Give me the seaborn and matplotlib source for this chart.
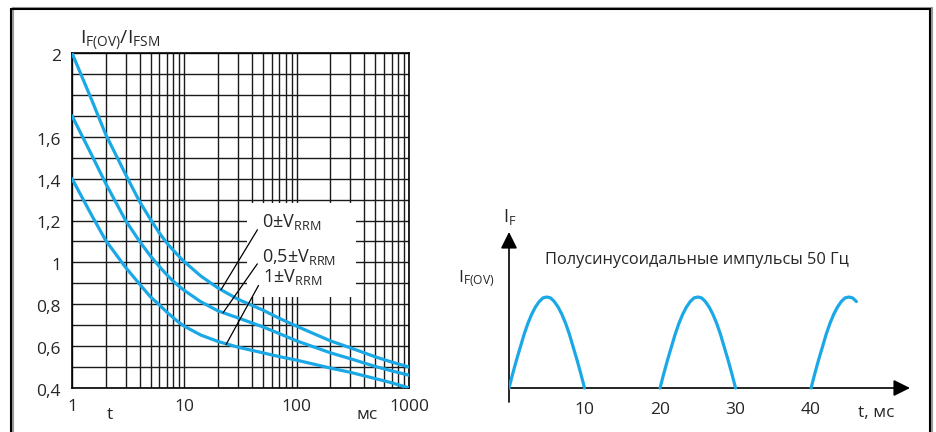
import numpy as np
import pandas as pd
import matplotlib
matplotlib.use('Agg')
import matplotlib.pyplot as plt
import seaborn as sns
from matplotlib.patches import Rectangle
from matplotlib.ticker import FixedLocator, LogLocator, NullFormatter

# Left chart: I_F(OV)/I_FSM vs t (ms), three reverse-voltage cases
t_ms = [1, 1.5, 2, 3, 4, 5, 6, 7, 8, 9, 10, 14, 20, 30, 50, 70, 100, 200, 300, 500, 700, 1000]
ratio_0 = [2.00, 1.775, 1.61, 1.42, 1.29, 1.205, 1.14, 1.092, 1.057, 1.028, 1.003, 0.935, 0.877,
           0.824, 0.772, 0.733, 0.695, 0.625, 0.592, 0.549, 0.524, 0.50]
ratio_05 = [1.70, 1.512, 1.376, 1.20, 1.10, 1.03, 0.98, 0.94, 0.909, 0.885, 0.866, 0.812, 0.768,
            0.735, 0.692, 0.66, 0.625, 0.568, 0.54, 0.503, 0.482, 0.461]
ratio_1 = [1.40, 1.224, 1.104, 0.976, 0.896, 0.835, 0.797, 0.762, 0.735, 0.712, 0.695, 0.653, 0.622,
           0.595, 0.568, 0.55, 0.533, 0.495, 0.475, 0.445, 0.425, 0.40]

curve_labels = ['0±$\\mathregular{V_{RRM}}$', '0,5±$\\mathregular{V_{RRM}}$', '1±$\\mathregular{V_{RRM}}$']
label_t = [49.3, 49.3, 50.3]
label_v = [1.193, 1.026, 0.930]
leader_t = [21.2, 22.1, 23.5]
leader_v = [0.869, 0.759, 0.607]

x_ticks = [1, 10, 100, 1000]
x_ticklabels = ['1', '10', '100', '1000']
y_ticks = [0.4, 0.6, 0.8, 1.0, 1.2, 1.4, 1.6, 2.0]
y_ticklabels = ['0,4', '0,6', '0,8', '1', '1,2', '1,4', '1,6', '2']

# Right chart: half-sine pulses 50 Hz
pulse_ms = [0, 0.5, 1, 1.5, 2, 2.5, 3, 3.5, 4, 4.5, 5, 5.5, 6, 6.5, 7, 7.5, 8, 8.5, 9, 9.5, 10]
pulse_level = [0, 0.16, 0.31, 0.45, 0.59, 0.71, 0.81, 0.89, 0.95, 0.99, 1.0, 0.99, 0.95,
               0.89, 0.81, 0.71, 0.59, 0.45, 0.31, 0.16, 0]
pulse_start = [0, 20, 40]
pulse_points = [21, 21, 13]
pulse_ticks = [10, 20, 30, 40]

BLUE = '#1aa9e6'
W, H = 936, 432

sns.set_style('white')
plt.rcParams['font.family'] = ['Open Sans', 'DejaVu Sans']
plt.rcParams['mathtext.fontset'] = 'custom'
plt.rcParams['mathtext.rm'] = 'Open Sans'
plt.rcParams['font.size'] = 12.5


def fx(px):
    return px / W


def fy(py):
    return 1 - py / H


fig = plt.figure(figsize=(W / 100, H / 100), dpi=100)

# outer frame (with a grey shadow)
fig.add_artist(Rectangle((fx(12.5), -0.05), fx(930) - fx(11), fy(7.5) + 0.05,
                         transform=fig.transFigure, fill=False, ec='#9a9a9a', lw=1.5))
fig.add_artist(Rectangle((fx(11), -0.05), fx(930) - fx(11), fy(9) + 0.05,
                         transform=fig.transFigure, fill=False, ec='black', lw=1.5))

# ---- left chart ----
ax = fig.add_axes([fx(72), fy(388), (409 - 72) / W, (388 - 53) / H])
ax.set_xscale('log')
for vals in [ratio_0, ratio_05, ratio_1]:
    df = pd.DataFrame({'t': t_ms, 'r': vals})
    sns.lineplot(data=df, x='t', y='r', ax=ax, color=BLUE, lw=2.3, zorder=4)

ax.set_xlim(1, 1000)
ax.set_ylim(0.4, 2.0)
ax.xaxis.set_major_locator(FixedLocator(x_ticks))
ax.xaxis.set_minor_locator(LogLocator(base=10, subs=range(2, 10)))
ax.xaxis.set_minor_formatter(NullFormatter())
ax.set_xticklabels(x_ticklabels)
ax.set_yticks(np.round(np.arange(0.4, 2.01, 0.1), 1))
ax.set_yticklabels([])
ax.set_axisbelow(True)
ax.grid(True, which='both', color='#1a1a1a', lw=1.0)
ax.tick_params(which='both', length=0)
ax.tick_params(axis='x', pad=8)
ax.set_xlabel('')
ax.set_ylabel('')
for s in ax.spines.values():
    s.set_color('black')
    s.set_linewidth(1.2)

for v, lab in zip(y_ticks, y_ticklabels):
    ax.annotate(lab, xy=(0, v), xycoords=('axes fraction', 'data'), xytext=(-11, -4),
                textcoords='offset pixels', ha='right', va='center')

# white box behind the curve labels
ax.add_patch(Rectangle((36.2, 0.835), 338 - 36.2, 1.284 - 0.835, fc='white', ec='none', zorder=2))
for lab, lt, lv, kt, kv in zip(curve_labels, label_t, label_v, leader_t, leader_v):
    ax.annotate(lab, xy=(kt, kv), xytext=(lt, lv), ha='left', va='center', zorder=6,
                fontsize=13,
                arrowprops=dict(arrowstyle='-', color='black', lw=0.9,
                                relpos=(0, 0.5), shrinkA=2, shrinkB=0))

fig.text(fx(80), fy(40), r'$\mathregular{I_{F(OV)}/I_{FSM}}$', ha='left', va='center', fontsize=14)
fig.text(fx(110), fy(415), 't', ha='center', va='center')
fig.text(fx(367), fy(415), 'мс', ha='center', va='center')

# ---- right chart ----
ax2 = fig.add_axes([fx(509), fy(402), (910 - 509) / W, (402 - 232) / H])
for start, n in zip(pulse_start, pulse_points):
    df = pd.DataFrame({'t': [start + p for p in pulse_ms[:n]], 'i': pulse_level[:n]})
    sns.lineplot(data=df, x='t', y='i', ax=ax2, color=BLUE, lw=2.3, sort=False,
                 solid_capstyle='round', zorder=4)

ax2.set_xlim(0, 53.1)
ax2.set_ylim(-14 / 91, 156 / 91)
for s in ax2.spines.values():
    s.set_visible(False)
ax2.spines['bottom'].set_position(('data', 0))
ax2.set_xticks(pulse_ticks)
ax2.set_yticks([])
ax2.tick_params(axis='x', length=4.3, width=1.2, direction='out', pad=6, color='black')
ax2.set_xlabel('')
ax2.set_ylabel('')
ax2.set_facecolor('none')

arrow = dict(arrowstyle='-|>,head_length=0.8,head_width=0.4', color='black', lw=1.2,
             shrinkA=0, shrinkB=0)
ax2.annotate('', xy=(53.1, 0), xytext=(0, 0), arrowprops=arrow, annotation_clip=False)
ax2.annotate('', xy=(0, 156 / 91), xytext=(0, -14 / 91), arrowprops=arrow, annotation_clip=False)

fig.text(fx(876), fy(413), 't, мс', ha='center', va='center')
fig.text(fx(510), fy(217), r'$\mathregular{I_F}$', ha='center', va='center', fontsize=13)
fig.text(fx(458), fy(279), r'$\mathregular{I_{F(OV)}}$', ha='left', va='center')
fig.text(fx(545), fy(260), 'Полусинусоидальные импульсы 50 Гц', ha='left', va='center',
         fontsize=11.8)

fig.savefig('out.png', dpi=100)
